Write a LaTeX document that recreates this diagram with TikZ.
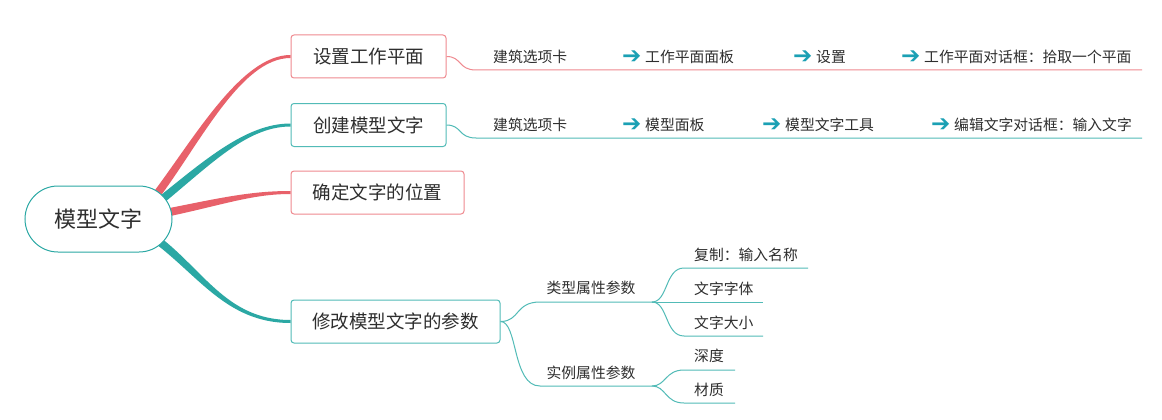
\documentclass[tikz,border=0pt]{standalone}
\usepackage{fontspec}
\setmainfont{Noto Sans CJK SC}
\newfontfamily\arrowfont{DejaVu Sans}
\usetikzlibrary{shapes.misc,calc,backgrounds}
\pgfdeclarelayer{paper}
\pgfsetlayers{paper,background,main}
\definecolor{redc}{HTML}{E8616A}
\definecolor{redl}{HTML}{EF8A90}
\definecolor{tealc}{HTML}{2BA8A4}
\definecolor{teall}{HTML}{52BBB7}
\definecolor{txt}{HTML}{2E2E2E}
\definecolor{arrowc}{HTML}{1BA0B4}
\newcommand\arr{\makebox[23pt][l]{\smash{\raisebox{-1.2pt}{\fontsize{23}{26}\arrowfont\color{arrowc}➔}}}}
\newcommand\taperlink[7]{%
  \fill[#1] ($#2+#6$) .. controls ($#3+#6$) and ($#4+#7$) .. ($#5+#7$)
    -- ($#5-#7$) .. controls ($#4-#7$) and ($#3-#6$) .. ($#2-#6$) -- cycle;}
\begin{document}
\begin{tikzpicture}[x=1pt,y=-1pt,
  rootbox/.style={rounded rectangle, draw=tealc, line width=1pt, fill=white,
    minimum width=147pt, minimum height=66pt, inner sep=0pt,
    font=\fontsize{22}{26}\selectfont, text=txt},
  mainbox/.style={rectangle, rounded corners=3pt, line width=1pt, fill=white,
    minimum height=43pt, inner sep=0pt,
    font=\fontsize{18.5}{22}\selectfont, text=txt},
  item/.style={anchor=west, inner sep=0pt, font=\fontsize{14.8}{18}\selectfont, text=txt},
  subitem/.style={anchor=center, inner sep=0pt, font=\fontsize{14.8}{18}\selectfont, text=txt},
  thinred/.style={draw=redl, line width=1pt},
  thinteal/.style={draw=teall, line width=1pt}]
\useasboundingbox (0,0) rectangle (1162,420);
\begin{pgfonlayer}{paper}
\fill[white] (0,0) rectangle (1162,420);
\end{pgfonlayer}

% nodes
\node[rootbox] (root) at (98.5,219) {模型文字};
\node[mainbox, draw=redl, minimum width=155pt] (b1) at (368.5,56.5) {设置工作平面};
\node[mainbox, draw=teall, minimum width=155pt] (b2) at (368.5,125) {创建模型文字};
\node[mainbox, draw=redl, minimum width=173pt] (b3) at (377.5,192.5) {确定文字的位置};
\node[mainbox, draw=teall, minimum width=209pt] (b4) at (395.5,321.5) {修改模型文字的参数};

% branch 1 items
\node[item] (t11) at (493,57) {建筑选项卡};
\node[item] (t12) at (622,57) {\arr 工作平面面板};
\node[item] (t13) at (793,57) {\arr 设置};
\node[item] (t14) at (901,57) {\arr 工作平面对话框：拾取一个平面};
\coordinate (k1) at (476,70);
\coordinate (e1) at (1142,70);
% branch 2 items
\node[item] (t21) at (493,125) {建筑选项卡};
\node[item] (t22) at (622,125) {\arr 模型面板};
\node[item] (t23) at (762,125) {\arr 模型文字工具};
\node[item] (t24) at (931,125) {\arr 编辑文字对话框：输入文字};
\coordinate (k2) at (476,138);
\coordinate (e2) at (1142,138);

% branch 4 sub tree
\node[subitem] (p1) at (591,288) {类型属性参数};
\node[subitem] (p2) at (591,373) {实例属性参数};
\coordinate (k41) at (540,302);
\coordinate (k42) at (540,386);
\coordinate (s1) at (652,302);
\coordinate (s2) at (652,386);
\node[item] (q1) at (694,255) {复制：输入名称};
\node[item] (q2) at (694,289) {文字字体};
\node[item] (q3) at (694,323) {文字大小};
\node[item] (q4) at (694,356) {深度};
\node[item] (q5) at (694,390) {材质};
\coordinate (m1) at (684,268);
\coordinate (n1) at (808,268);
\coordinate (n2) at (763,302);
\coordinate (m3) at (684,336);
\coordinate (n3) at (763,336);
\coordinate (m4) at (684,370);
\coordinate (n4) at (735,370);
\coordinate (m5) at (684,403);
\coordinate (n5) at (735,403);

\begin{scope}[on background layer]
  % thick tapered connectors from root
  \taperlink{redc}{(root.center)+(54,-19)}{(195,145)}{(240,56.5)}{(b1.west)}{(3.2,2.4)}{(0,1.5)}
  \taperlink{tealc}{(root.center)+(54,-12)}{(205,165)}{(245,125)}{(b2.west)}{(2.6,3)}{(0,1.5)}
  \taperlink{redc}{(root.center)+(57,-4)}{(220,202)}{(250,192.5)}{(b3.west)}{(0.6,4)}{(0,1.5)}
  \taperlink{tealc}{(root.center)+(52,16)}{(200,270)}{(225,321.5)}{(b4.west)}{(-2.5,3.1)}{(0,1.5)}
  % thin connectors
  \draw[thinred] (b1.east) .. controls (462,56.5) and (458,70) .. (k1) -- (e1);
  \draw[thinteal] (b2.east) .. controls (462,125) and (458,138) .. (k2) -- (e2);
  \draw[thinteal] (b4.east) .. controls (520,321.5) and (515,302) .. (k41) -- (s1);
  \draw[thinteal] (b4.east) .. controls (518,321.5) and (512,386) .. (k42) -- (s2);
  \draw[thinteal] (s1) .. controls (668,302) and (665,268) .. (m1) -- (n1);
  \draw[thinteal] (s1) -- (n2);
  \draw[thinteal] (s1) .. controls (668,302) and (665,336) .. (m3) -- (n3);
  \draw[thinteal] (s2) .. controls (666,386) and (665,370) .. (m4) -- (n4);
  \draw[thinteal] (s2) .. controls (666,386) and (665,403) .. (m5) -- (n5);
\end{scope}
\end{tikzpicture}
\end{document}
